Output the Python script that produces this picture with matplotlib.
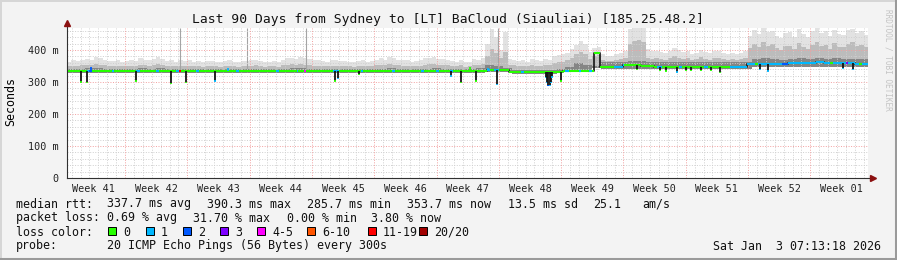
import numpy as np
import matplotlib
matplotlib.use('Agg')
import matplotlib.pyplot as plt
from matplotlib.lines import Line2D
from matplotlib.patches import Rectangle

# x values are days since the left edge of the graph, y values are ms
week_labels = ['Week 41', 'Week 42', 'Week 43', 'Week 44', 'Week 45', 'Week 46', 'Week 47',
               'Week 48', 'Week 49', 'Week 50', 'Week 51', 'Week 52', 'Week 01']
first_monday = 6.52

# upper edge of the smoke, two values per day
smoke_max = [364, 368, 366, 370, 372, 368, 379, 374, 368, 365, 366, 370, 364, 366, 368, 365,
             374, 370, 368, 372, 377, 372, 366, 370, 364, 368, 366, 369, 364, 366, 362, 365,
             367, 364, 363, 366, 368, 364, 362, 366, 365, 368, 370, 366, 362, 364, 365, 362,
             370, 374, 376, 372, 378, 374, 372, 370, 368, 366, 364, 368, 370, 366, 366, 364,
             362, 366, 368, 364, 366, 370, 374, 370, 378, 374, 370, 368, 368, 364, 366, 368,
             374, 376, 378, 372, 372, 370, 366, 364, 368, 362, 364, 372, 370, 376, 420, 466,
             440, 400, 455, 372, 370, 366, 368, 364, 372, 368, 366, 372, 370, 382, 384, 386,
             392, 404, 415, 428, 420, 395, 405, 410, 386, 380, 382, 386, 392, 398, 466, 470,
             470, 468, 402, 396, 398, 394, 390, 396, 406, 400, 394, 398, 388, 392, 400, 394,
             390, 396, 398, 392, 388, 392, 386, 390, 396, 445, 462, 450, 468, 455, 460, 445,
             438, 452, 455, 442, 466, 450, 440, 458, 470, 452, 458, 444, 464, 450, 448, 462,
             466, 452, 458, 448]
# top of the mid grey part, two values per day
smoke_mid = [349, 351, 350, 352, 354, 352, 357, 354, 352, 350, 350, 351, 349, 350, 350, 349,
             354, 352, 351, 353, 355, 352, 350, 351, 349, 351, 350, 351, 349, 350, 348, 349,
             350, 349, 348, 350, 351, 349, 348, 350, 350, 351, 352, 350, 348, 349, 350, 348,
             352, 354, 355, 353, 356, 354, 352, 351, 350, 349, 349, 351, 351, 350, 350, 349,
             348, 350, 351, 349, 350, 352, 354, 352, 356, 354, 352, 351, 350, 349, 350, 351,
             354, 355, 356, 353, 353, 352, 350, 349, 352, 348, 349, 353, 352, 356, 380, 402,
             392, 375, 395, 352, 352, 350, 351, 349, 353, 351, 350, 353, 352, 360, 362, 364,
             368, 376, 386, 394, 388, 372, 380, 385, 370, 366, 366, 368, 372, 376, 420, 428,
             430, 424, 376, 372, 375, 372, 370, 374, 380, 376, 372, 375, 370, 372, 377, 373,
             370, 374, 376, 372, 370, 373, 369, 372, 374, 405, 418, 410, 425, 414, 420, 406,
             400, 412, 414, 404, 422, 410, 402, 416, 426, 412, 416, 404, 422, 410, 408, 420,
             424, 412, 416, 408]
# dark band around the median and lower edge of the smoke, one value per day
smoke_dark = [341, 342, 343, 343, 341, 341, 341, 341, 343, 342,
              343, 341, 341, 341, 340, 340, 341, 340, 341, 340,
              341, 341, 340, 340, 342, 343, 343, 342, 341, 341,
              341, 341, 340, 341, 341, 342, 343, 342, 341, 341,
              342, 343, 342, 341, 342, 340, 343, 352, 350, 345,
              338, 338, 338, 338, 338, 342, 348, 358, 352, 350,
              362, 362, 363, 366, 366, 362, 362, 361, 362, 362,
              361, 362, 361, 362, 361, 361, 364, 372, 374, 372,
              370, 372, 374, 371, 375, 373, 374, 372, 373, 372]
smoke_low = [328] * 47 + [332, 332, 332] + [326] * 5 + [330, 330, 330, 330, 344] + \
            [342] * 17 + [346] * 13

# median rtt (step breakpoints)
med_days = [0, 47.2, 49.7, 55.7, 59.2, 59.9, 62.5, 64.5, 66.0, 76.4, 81.0, 84.2, 85.0, 88.5, 90]
med_ms = [333, 337, 330, 335, 391, 348, 354, 351, 347, 356, 359, 363, 358, 355, 355]

# loss colour runs on the median line (class index into loss_names)
loss_start = [2.2, 2.5, 5.0, 7.8, 10.0, 12.3, 12.6, 14.5, 19.0, 23.5, 25.8, 26.6, 29.9,
              33.0, 36.5, 39.8, 41.5, 43.0, 47.2, 48.0, 51.0, 56.0, 57.5, 58.6,
              61.5, 66.3, 68.8, 71.6, 74.5, 76.4, 77.3, 80.3, 85.7, 87.5, 89.0]
loss_end = [2.5, 2.8, 5.3, 8.2, 10.3, 12.6, 12.8, 14.8, 19.3, 23.8, 26.0, 26.9, 30.6,
            33.3, 36.8, 40.1, 41.8, 43.4, 47.5, 48.5, 51.3, 56.4, 57.8, 59.0,
            62.6, 66.8, 69.1, 72.0, 76.4, 90.0, 77.6, 81.0, 86.1, 87.8, 89.3]
loss_cls = [1, 2, 1, 1, 1, 1, 6, 1, 1, 1, 1, 4, 1,
            1, 1, 1, 1, 1, 1, 1, 1, 1, 1, 1,
            1, 1, 1, 1, 1, 1, 0, 2, 0, 3, 0]

# short drops of the median
dip_days = [1.54, 2.21, 7.75, 11.65, 13.37, 16.63, 30.1, 30.45, 32.8, 43.1, 44.27, 45.96,
            48.3, 53.8, 53.95, 54.1, 54.25, 54.4, 54.55, 55.5, 64.0, 66.6, 67.3, 68.5, 69.6,
            70.1, 71.2, 72.4, 73.4, 77.9, 78.8, 87.2, 88.3]
dip_ms = [298, 296, 301, 293, 296, 301, 301, 309, 322, 317, 296, 301,
          290, 312, 296, 286, 288, 296, 314, 301, 337, 334, 332, 329, 335,
          333, 334, 333, 328, 338, 332, 340, 338]
dip_cls = [0, 0, 0, 0, 0, 1, 0, 1, 0, 1, 0, 0,
           1, 1, 1, 2, 1, 1, 1, 0, 0, 0, 0, 1, 0,
           0, 0, 0, 0, 1, 1, 1, 1]

# short rises of the median
blip_days = [2.66, 18.1, 45.3, 47.35]
blip_ms = [348, 343, 348, 345]
blip_cls = [2, 1, 0, 1]

# single samples with a very large spread
spike_days = [12.7, 20.2, 26.85, 48.4]
spike_ms = [470, 470, 470, 470]

loss_names = ['0', '1', '2', '3', '4-5', '6-10', '11-19', '20/20']
loss_colors = ['#26ff00', '#00b8ff', '#0059ff', '#7e00ff', '#ff00ff', '#ff5500', '#ff0000', '#a10000']

mono = 'DejaVu Sans Mono'
W, H = 897, 260
fig = plt.figure(figsize=(W / 100, H / 100), dpi=100, facecolor='#f3f3f3')
ax = fig.add_axes([67 / W, 82 / H, 801 / W, 150 / H])
ax.set_facecolor('white')
ax.set_xlim(0, 90)
ax.set_ylim(0, 468.75)
for s in ax.spines.values():
    s.set_visible(False)


def ext(a):
    return list(a) + [a[-1]]


# smoke
half = np.arange(len(smoke_max) + 1) / 2
days = np.arange(len(smoke_dark) + 1)
low_half = np.repeat(smoke_low, 2)
ax.fill_between(half, ext(low_half), ext(smoke_max), step='post', color='#e2e2e2', lw=0, zorder=1)
ax.fill_between(half, ext(low_half), ext(smoke_mid), step='post', color='#bcbcbc', lw=0, zorder=1)
ax.fill_between(days, ext(smoke_low), ext(smoke_dark), step='post', color='#858585', lw=0, zorder=1)
for d, v in zip(spike_days, spike_ms):
    ax.vlines(d, 330, v, color='#a4a4a4', lw=0.8, zorder=2)

# grid (above the smoke, below the median)
dot = (0, (1, 1.6))
for y in np.arange(20, 469, 20):
    major = y % 100 == 0
    ax.axhline(y, color='#f2a0a0' if major else '#cfcfcf', lw=0.7, ls=dot, zorder=3)
for k in range(-1, 13):
    for j in range(7):
        x = first_monday + 7 * k + j
        if 0 < x < 90:
            ax.axvline(x, color='#f2a0a0' if j == 0 else '#cfcfcf', lw=0.7, ls=dot, zorder=3)


def med_at(t):
    return med_ms[np.searchsorted(med_days, t, side='right') - 1]


def med_h(a, b, color):
    xs = [a] + [d for d in med_days if a < d < b] + [b]
    for x0, x1 in zip(xs[:-1], xs[1:]):
        ax.hlines(med_at(x0), x0, x1, color=color, lw=1.5, zorder=4)


# median: dark vertical steps, loss coloured horizontal parts
ax.step(med_days, med_ms, where='post', color='#151515', lw=1.2, zorder=4)
med_h(0, 90, loss_colors[0])
for a, b, c in zip(loss_start, loss_end, loss_cls):
    med_h(a, b, loss_colors[c])

for d, v, c in zip(dip_days, dip_ms, dip_cls):
    ax.vlines(d, v + 3, med_at(d), color='#151515', lw=1.3, zorder=4)
    ax.vlines(d, v, v + 4, color=loss_colors[c], lw=1.3, zorder=4)
for d, v, c in zip(blip_days, blip_ms, blip_cls):
    ax.vlines(d, med_at(d), v, color=loss_colors[c], lw=1.3, zorder=4)

# ticks
ax.set_yticks([0, 100, 200, 300, 400], labels=['0', '100 m', '200 m', '300 m', '400 m'])
ax.set_xticks([first_monday - 3.5 + 7 * i for i in range(len(week_labels))], labels=week_labels)
ax.tick_params(length=0, labelsize=7.3, colors='#222222')
ax.tick_params(axis='y', pad=6.3)
ax.tick_params(axis='x', pad=4.2)
for t in ax.get_xticklabels() + ax.get_yticklabels():
    t.set_family(mono)

# axes with arrows
ax.plot([0, 0], [0, 1.03], transform=ax.transAxes, color='#303030', lw=0.8, clip_on=False, zorder=6)
ax.plot([0, 1.004], [0, 0], transform=ax.transAxes, color='#303030', lw=0.8, clip_on=False, zorder=6)
ax.plot([0], [1.035], transform=ax.transAxes, marker='^', ms=4, color='#8b1010', clip_on=False, zorder=7)
ax.plot([1.006], [0], transform=ax.transAxes, marker='>', ms=4, color='#8b1010', clip_on=False, zorder=7)


def px(x, y):
    return x / W, 1 - y / H


fig.text(*px(448, 19), 'Last 90 Days from Sydney to [LT] BaCloud (Siauliai) [185.25.48.2]',
         ha='center', va='center', family=mono, size=9.4, color='#111111')
fig.text(*px(11, 102), 'Seconds', rotation=90, ha='center', va='center', family=mono, size=8.4)
fig.text(*px(888, 60), 'RRDTOOL / TOBI OETIKER', rotation=270, ha='center', va='center',
         family=mono, size=5.6, color='#c4c4c4')

rows = [
    (204, [(16, 'median rtt:'), (107, '337.7 ms avg'), (207, '390.3 ms max'), (307, '285.7 ms min'),
           (407, '353.7 ms now'), (508, '13.5 ms sd'), (593, '25.1'), (642, 'am/s')]),
    (218, [(16, 'packet loss:'), (107, '0.69 % avg'), (193, '31.70 % max'), (287, '0.00 % min'),
           (371, '3.80 % now')]),
    (232, [(16, 'loss color:')]),
    (246, [(16, 'probe:'), (107, '20 ICMP Echo Pings (56 Bytes) every 300s')]),
]
for y, items in rows:
    for x, s in items:
        fig.text(*px(x, y), s, ha='left', va='center', family=mono, size=8.4, color='#111111')
fig.text(*px(881, 246), 'Sat Jan  3 07:13:18 2026', ha='right', va='center', family=mono, size=8.4,
         color='#111111')

box_x = [108, 146, 183, 220, 257, 307, 368, 419]
for bx, name, col in zip(box_x, loss_names, loss_colors):
    x0, y0 = px(bx, 235)
    fig.add_artist(Rectangle((x0, y0), 8 / W, 8 / H, facecolor=col, edgecolor='black', lw=0.7))
    fig.text(*px(bx + 15, 232), name, ha='left', va='center', family=mono, size=8.4, color='#111111')

# frame
fig.add_artist(Line2D([0, 1], [1 - 1 / H, 1 - 1 / H], color='#d6d6d6', lw=1.4))
fig.add_artist(Line2D([1 / W, 1 / W], [0, 1], color='#d6d6d6', lw=1.4))
fig.add_artist(Line2D([0, 1], [1.5 / H, 1.5 / H], color='#9a9a9a', lw=2.2))
fig.add_artist(Line2D([1 - 1.5 / W, 1 - 1.5 / W], [0, 1], color='#9a9a9a', lw=2.2))

fig.savefig('out.png', dpi=100, facecolor=fig.get_facecolor())
